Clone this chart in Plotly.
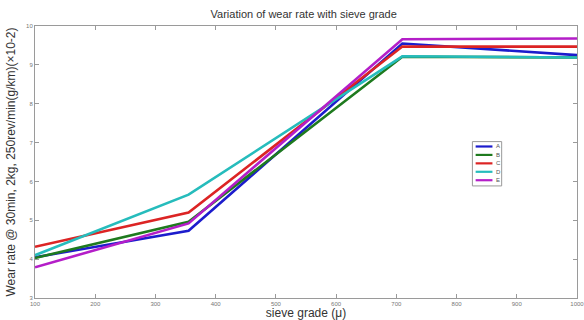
import plotly.graph_objects as go

sieve = [100, 355, 710, 1000]
A = [4.05, 4.73, 9.55, 9.25]
B = [4.03, 4.96, 9.21, 9.19]
C = [4.32, 5.20, 9.47, 9.47]
D = [4.10, 5.66, 9.22, 9.19]
E = [3.79, 4.92, 9.66, 9.68]
names = ["A", "B", "C", "D", "E"]
series = [A, B, C, D, E]
colors = ["#1c1ccc", "#1e7a1e", "#dc2424", "#26bcbc", "#b41ec8"]
xticks = [100, 200, 300, 400, 500, 600, 700, 800, 900, 1000]
yticks = [3, 4, 5, 6, 7, 8, 9, 10]

fig = go.Figure()
for n, s, c in zip(names, series, colors):
    fig.add_trace(go.Scatter(x=sieve, y=s, mode="lines", name=n,
                             line=dict(color=c, width=2.6), showlegend=False))

# custom compact legend (paper coordinates)
lx0, lx1, ly1 = 0.807, 0.861, 0.575
step = 0.031
fig.add_shape(type="rect", xref="paper", yref="paper", x0=lx0, x1=lx1,
              y0=ly1 - step * len(names) - 0.008, y1=ly1,
              line=dict(color="#999999", width=1), fillcolor="white", layer="above")
for i, (n, c) in enumerate(zip(names, colors)):
    yy = ly1 - 0.018 - i * step
    fig.add_shape(type="line", xref="paper", yref="paper", x0=lx0 + 0.006, x1=lx0 + 0.037,
                  y0=yy, y1=yy, line=dict(color=c, width=2.2), layer="above")
    fig.add_annotation(xref="paper", yref="paper", x=lx0 + 0.040, y=yy, text=n,
                       showarrow=False, xanchor="left", yanchor="middle",
                       font=dict(size=6, color="#555555", family="Liberation Sans"))

axis_common = dict(showgrid=False, zeroline=False, showline=True, linecolor="#9a9a9a",
                   linewidth=1, mirror="ticks", ticks="inside", ticklen=4, tickcolor="#9a9a9a",
                   tickfont=dict(size=6, color="#777777", family="Liberation Sans"),
                   automargin=False, ticklabeloverflow="allow")
fig.update_layout(
    width=584, height=320, autosize=False,
    margin=dict(l=35, r=7, t=26, b=22),
    paper_bgcolor="white", plot_bgcolor="white",
    title=dict(text="Variation of wear rate with sieve grade", x=0.52, xanchor="center",
               y=0.955, yanchor="middle", automargin=False,
               font=dict(size=11, color="#333333", family="Liberation Sans")),
    xaxis=dict(range=[100, 1000], tickvals=xticks, title=dict(text="sieve grade (μ)", standoff=2,
               font=dict(size=12, color="#333333", family="Liberation Sans")), **axis_common),
    yaxis=dict(range=[3, 10], tickvals=yticks, title=dict(text="Wear rate @ 30min, 2kg, 250rev/min(g/km)(×10-2)",
               standoff=7, font=dict(size=12, color="#333333", family="Liberation Sans")), **axis_common),
    showlegend=False,
)
fig.write_html("out.html", config={"responsive": False, "displayModeBar": False},
               post_script="document.body.style.margin='0';document.body.style.overflow='hidden';")
